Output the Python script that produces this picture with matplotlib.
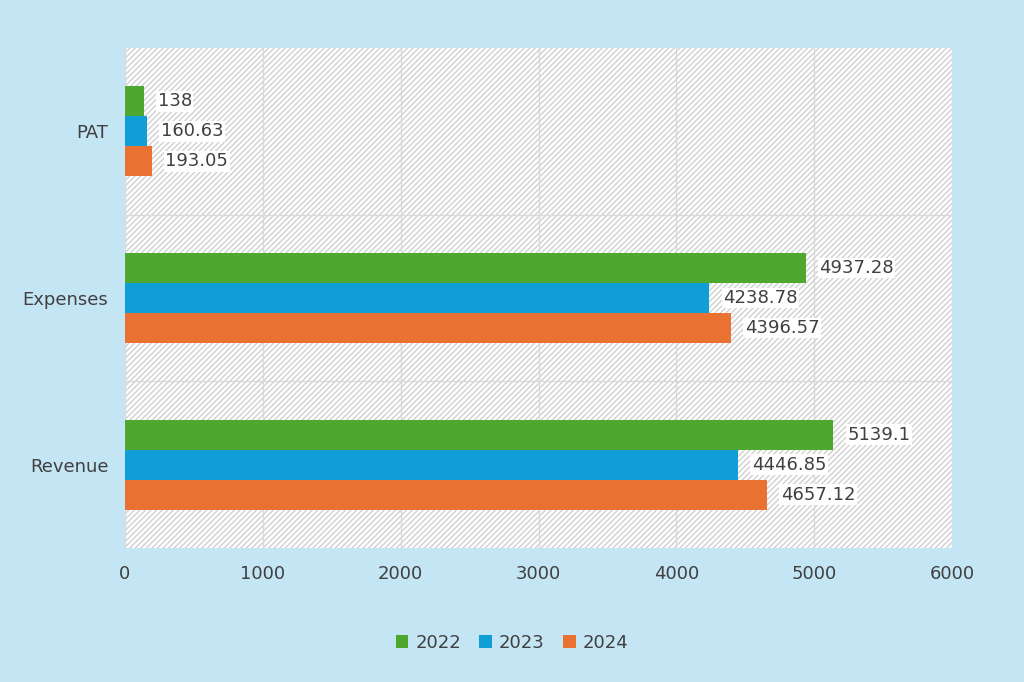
import numpy as np
from matplotlib import pyplot as plt

categories = ["Revenue", "Expenses", "PAT"]
years = ["2022", "2023", "2024"]
v2022 = [5139.1, 4937.28, 138]
v2023 = [4446.85, 4238.78, 160.63]
v2024 = [4657.12, 4396.57, 193.05]
colors = ["#4ea72e", "#0f9ed5", "#e97132"]

fig = plt.figure(figsize=(10.24, 6.82), dpi=100, facecolor="#c4e5f4")
ax = fig.add_axes([125/1024, 1-548/682, 827/1024, 500/682])
ax.set_facecolor("white")
# hatched background
ax.add_patch(plt.Rectangle((0, 0), 1, 1, transform=ax.transAxes, facecolor="white",
                           edgecolor="#d0d0d0", hatch="//////", lw=0, zorder=0))
plt.rcParams['hatch.linewidth'] = 0.6

y = np.arange(len(categories))
h = 0.18
for i, (vals, c, lab) in enumerate(zip([v2022, v2023, v2024], colors, years)):
    pos = y + h - i * h
    ax.barh(pos, vals, height=h, color=c, label=lab, zorder=3)
    for p, v in zip(pos, vals):
        ax.text(v + 100, p, f"{v:g}", va="center", ha="left", fontsize=13,
                color="#404040", zorder=4,
                bbox=dict(facecolor="white", edgecolor="none", pad=1))

ax.set_xlim(0, 6000)
ax.set_ylim(-0.5, 2.5)
ax.set_xticks(range(0, 6001, 1000))
ax.set_yticks(y)
ax.set_yticklabels(categories)
ax.set_yticks([0.5, 1.5], minor=True)
ax.grid(axis="x", color="#d9d9d9", lw=1, zorder=1)
ax.grid(axis="y", which="minor", color="#d9d9d9", lw=1, zorder=1)
ax.tick_params(axis="both", which="both", length=0, labelsize=13, colors="#404040", pad=12)
for s in ax.spines.values():
    s.set_visible(False)

fig.legend(loc="lower center", ncol=3, frameon=False, fontsize=13,
           bbox_to_anchor=(0.5, 0.02), handlelength=0.7, handleheight=0.7,
           columnspacing=1.0, handletextpad=0.4, labelcolor="#404040")
fig.savefig("out.png", dpi=100, facecolor=fig.get_facecolor())
